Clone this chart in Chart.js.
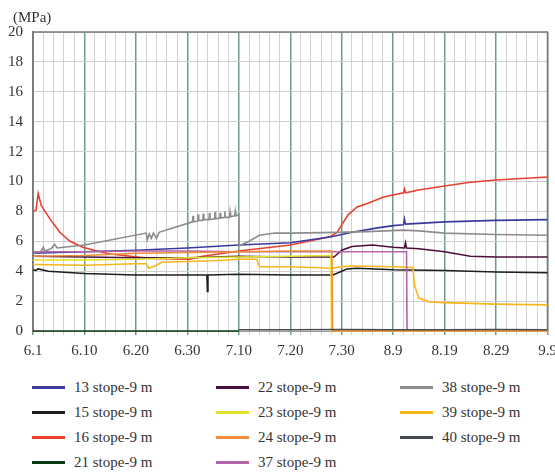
<!DOCTYPE html>
<html>
<head>
<meta charset="utf-8">
<script src="https://cdn.jsdelivr.net/npm/chart.js@4.4.0/dist/chart.umd.min.js"></script>
<style>
  html, body { margin: 0; padding: 0; background: #fff; }
  #wrap { position: relative; width: 555px; height: 472px; overflow: hidden; font-family: "Liberation Serif", "Times New Roman", "DejaVu Serif", serif; color: #333; }
  #chartBox { position: absolute; left: 0; top: 0; width: 555px; height: 372px; }
  #unit { position: absolute; left: 13px; top: 7px; font-size: 15px; line-height: 20px; }
  #legend { position: absolute; left: 32px; top: 375px; display: grid; grid-template-columns: 184px 184px 184px; grid-auto-flow: column; grid-template-rows: repeat(4, 25px); }
  .item { display: flex; align-items: center; font-size: 15px; white-space: nowrap; }
  .swatch { width: 33px; height: 3px; margin-right: 9px; }
</style>
</head>
<body>
<div id="wrap">
  <div id="chartBox"><canvas id="chart"></canvas></div>
  <div id="unit">(MPa)</div>
  <div id="legend"></div>
</div>
<script>
// x positions are tick indices (0 = 6.1 ... 10 = 9.9)
const dateLabels = ['6.1', '6.10', '6.20', '6.30', '7.10', '7.20', '7.30', '8.9', '8.19', '8.29', '9.9'];

const seriesNames = ['13 stope-9 m', '15 stope-9 m', '16 stope-9 m', '21 stope-9 m', '22 stope-9 m', '23 stope-9 m',
  '24 stope-9 m', '37 stope-9 m', '38 stope-9 m', '39 stope-9 m', '40 stope-9 m'];
const seriesColors = ['#3b3a9c', '#1e1e1e', '#e8402e', '#0d3b14', '#4a0f3e', '#e2e22a',
  '#f08c3a', '#b464a8', '#8c8c8c', '#f7b71c', '#444a50'];

const stope13 = [[0,5.2],[1,5.3],[2,5.4],[3,5.55],[4,5.75],[5,5.9],[5.8,6.3],[6.2,6.6],[6.7,6.9],[7.0,7.05],
  [7.2,7.1],[7.22,7.5],[7.24,7.15],[7.5,7.2],[8,7.3],[9,7.4],[10,7.45]];
const stope15 = [[0,4.1],[0.05,4.05],[0.1,4.15],[0.3,4.0],[1,3.85],[2,3.75],[3,3.75],[3.38,3.75],[3.39,2.65],
  [3.4,3.75],[4,3.8],[5,3.75],[5.83,3.75],[6.1,4.15],[6.3,4.2],[7,4.1],[8,4.05],[9,3.95],[10,3.9]];
const stope16 = [[0,8.0],[0.06,8.1],[0.1,9.2],[0.16,8.4],[0.33,7.5],[0.52,6.6],[0.72,6.0],[0.97,5.6],[1.24,5.35],
  [1.5,5.15],[1.9,5.0],[2.3,4.85],[3.05,4.8],[3.3,5.0],[4.0,5.35],[5.0,5.75],[5.77,6.3],[5.91,6.6],[6.0,7.1],
  [6.12,7.75],[6.3,8.3],[6.55,8.6],[6.8,8.95],[7.0,9.1],[7.2,9.25],[7.22,9.5],[7.24,9.25],[7.52,9.45],[8,9.7],
  [8.5,9.95],[9,10.1],[10,10.3]];
const stope21 = [[0,0],[1,0],[2,0],[3,0],[4,0]];
const stope22 = [[0,5.0],[1,4.95],[2,4.9],[3,4.9],[4,5.0],[5,4.95],[5.85,4.95],[6.0,5.4],[6.2,5.65],[6.6,5.75],
  [7.0,5.6],[7.22,5.55],[7.24,5.9],[7.26,5.55],[7.5,5.5],[8,5.3],[8.5,5.0],[9,4.95],[10,4.95]];
const stope23 = [[0,4.75],[1,4.75],[2,4.8],[3,4.9],[4,4.95],[5,5.0],[5.79,5.05],[5.8,0],[10,0]];
const stope24 = [[0,5.0],[1,5.05],[2,5.2],[3,5.25],[4,5.3],[5,5.35],[5.81,5.35],[5.82,0],[10,0]];
const stope37 = [[0,5.3],[1,5.3],[2,5.35],[3,5.35],[4,5.3],[5,5.3],[6,5.3],[7.26,5.3],[7.27,0],[10,0]];
const stope38 = [[0,5.2],[0.15,5.3],[0.2,5.6],[0.23,5.35],[0.35,5.5],[0.42,5.8],[0.47,5.55],[1,5.75],[2.2,6.55],
  [2.22,6.1],[2.26,6.5],[2.3,6.2],[2.34,6.55],[2.4,6.2],[2.45,6.6],[3.05,7.25],[3.1,7.3],[3.11,7.7],[3.12,7.3],
  [3.2,7.35],[3.21,7.8],[3.22,7.4],[3.3,7.4],[3.31,7.85],[3.32,7.45],[3.42,7.45],[3.43,7.9],[3.44,7.45],
  [3.53,7.5],[3.54,7.95],[3.55,7.5],[3.63,7.55],[3.64,7.9],[3.65,7.55],[3.72,7.6],[3.73,8.0],[3.74,7.6],
  [3.82,7.6],[3.83,7.95],[3.84,7.65],[3.92,7.7],[3.93,8.0],[3.94,7.7],[4.0,7.8],[4.005,5.7],[4.2,6.0],
  [4.4,6.4],[4.7,6.55],[5,6.55],[5.9,6.6],[6.5,6.65],[7.2,6.75],[7.5,6.7],[8,6.55],[9,6.45],[10,6.4]];
const stope39 = [[0,4.45],[1,4.4],[2,4.5],[2.2,4.5],[2.25,4.2],[2.4,4.4],[2.5,4.6],[3.0,4.65],[3.5,4.7],[4.0,4.8],
  [4.35,4.8],[4.4,4.3],[5,4.3],[5.8,4.2],[6.0,4.3],[6.2,4.35],[7.0,4.3],[7.38,4.25],[7.42,3.0],[7.5,2.2],
  [7.7,1.95],[8,1.9],[9,1.8],[10,1.75]];
const stope40 = [[4,0.08],[5,0.08],[6,0.1],[7,0.08],[8,0.08],[9,0.1],[10,0.08]];

const seriesData = [stope13, stope15, stope16, stope21, stope22, stope23, stope24, stope37, stope38, stope39, stope40];
// draw order: low-priority lines first so the visible ones sit on top
const drawOrder = [10, 3, 6, 5, 7, 9, 1, 4, 8, 0, 2];

const datasets = drawOrder.map(i => ({
  label: seriesNames[i],
  data: seriesData[i].map(p => ({ x: p[0], y: p[1] })),
  borderColor: seriesColors[i],
  borderWidth: 1.6,
  pointRadius: 0,
  tension: 0,
  fill: false,
  clip: 4
}));

// frame round the plot area
const framePlugin = {
  id: 'frame',
  beforeDatasetsDraw(chart) {
    const { ctx, chartArea: a } = chart;
    ctx.save();
    ctx.strokeStyle = '#7a7a7a';
    ctx.lineWidth = 1.5;
    ctx.beginPath();
    ctx.moveTo(a.left, a.bottom);
    ctx.lineTo(a.left, a.top);
    ctx.lineTo(a.right, a.top);
    ctx.lineTo(a.right, a.bottom);
    ctx.stroke();
    ctx.restore();
  }
};

const isMajor = v => Math.abs(v - Math.round(v)) < 1e-6;
const serif = '"Liberation Serif", "Times New Roman", "DejaVu Serif", serif';

new Chart(document.getElementById('chart'), {
  type: 'line',
  data: { datasets },
  plugins: [framePlugin],
  options: {
    responsive: true,
    maintainAspectRatio: false,
    animation: false,
    layout: { padding: { top: 32, right: 7.5, left: 0, bottom: 0 } },
    plugins: { legend: { display: false }, tooltip: { enabled: false } },
    scales: {
      x: {
        type: 'linear',
        min: 0,
        max: 10,
        afterBuildTicks: scale => {
          const t = [];
          for (let i = 0; i <= 50; i++) t.push({ value: i / 5 });
          scale.ticks = t;
        },
        afterFit: scale => { scale.paddingLeft = 0; scale.paddingRight = 0; scale.height = 41; },
        ticks: {
          autoSkip: false,
          maxRotation: 0,
          padding: 7,
          color: '#333',
          font: { family: serif, size: 15 },
          callback: v => isMajor(v) ? dateLabels[Math.round(v)] : ''
        },
        grid: {
          color: c => isMajor(c.tick.value) ? '#6e9a8c' : '#d2d2d2',
          lineWidth: c => isMajor(c.tick.value) ? 1.5 : 1,
          tickLength: 4
        },
        border: { color: '#9a9a9a', width: 1 }
      },
      y: {
        min: 0,
        max: 20,
        afterFit: scale => { scale.width = 33; },
        ticks: {
          stepSize: 2,
          padding: 10,
          color: '#333',
          font: { family: serif, size: 15 }
        },
        grid: { color: '#cfcfcf', drawTicks: false },
        border: { color: '#7a7a7a', width: 1.5 }
      }
    }
  }
});

// legend in three columns, filled column by column
const legend = document.getElementById('legend');
seriesNames.forEach((name, i) => {
  const item = document.createElement('div');
  item.className = 'item';
  item.innerHTML = `<span class="swatch" style="background:${seriesColors[i]}"></span><span>${name}</span>`;
  legend.appendChild(item);
});
</script>
</body>
</html>
